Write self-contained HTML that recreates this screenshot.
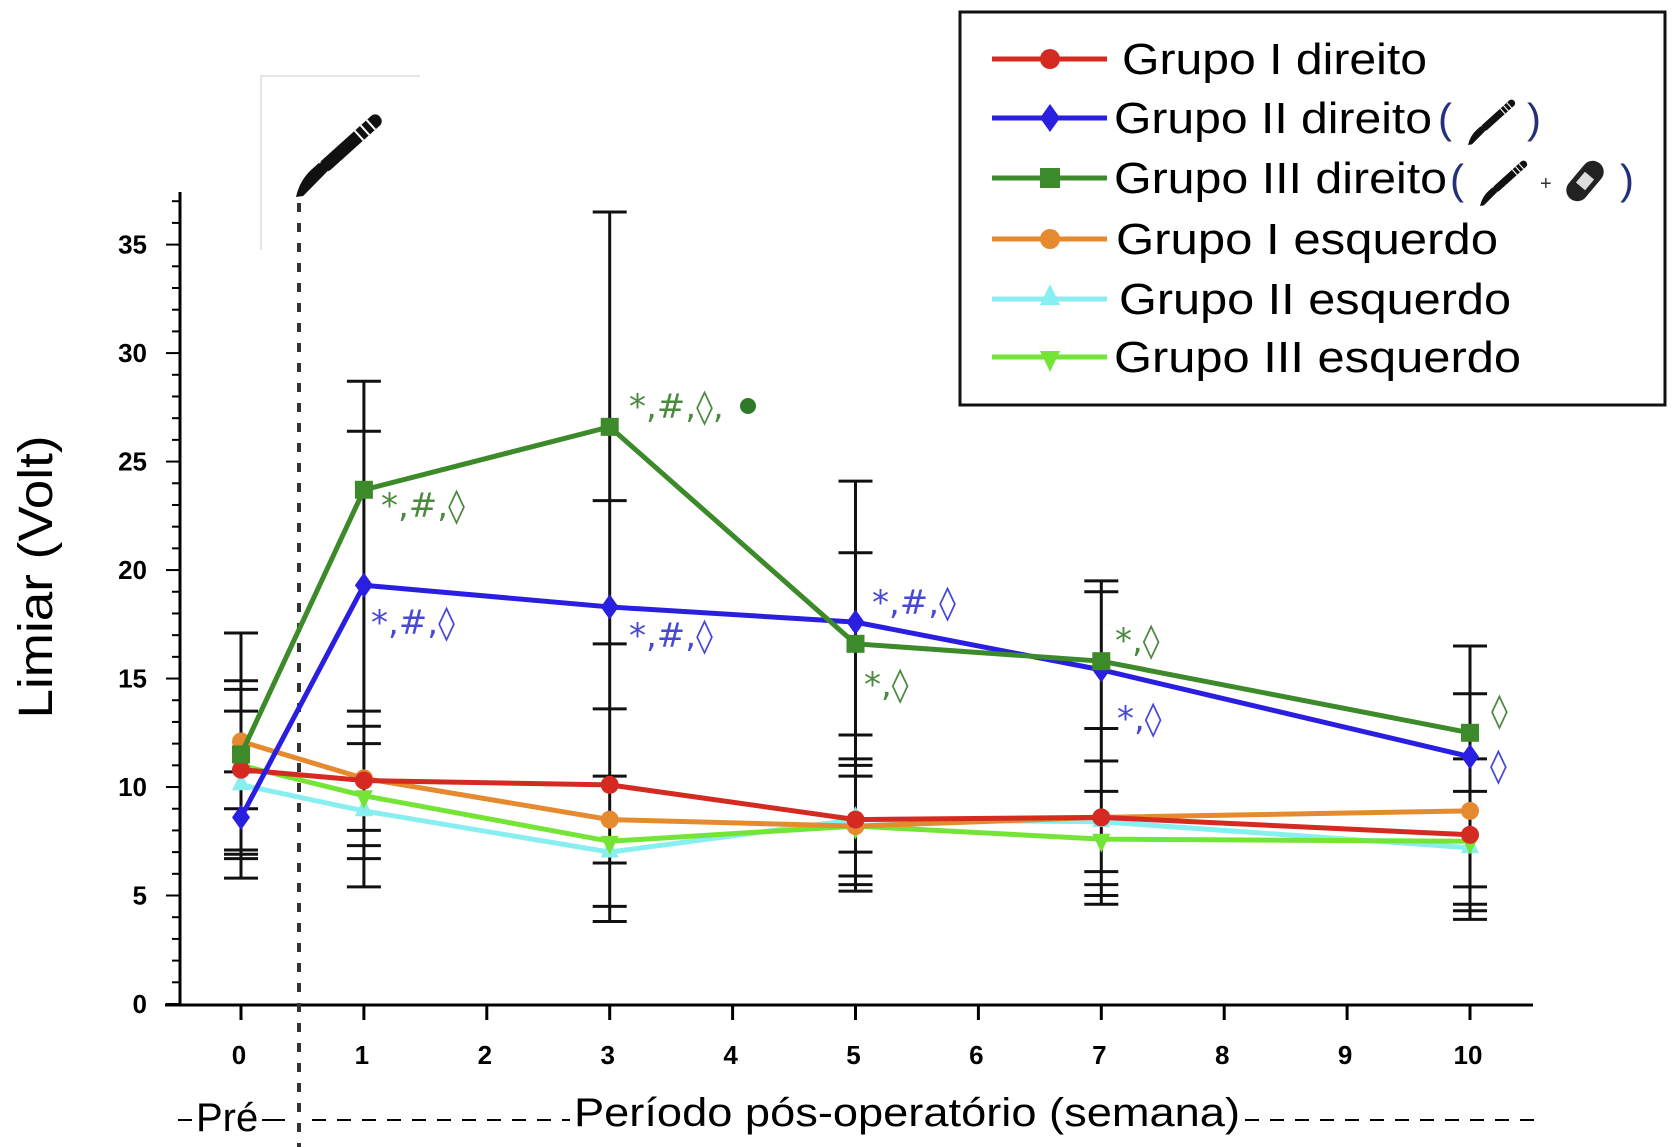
<!DOCTYPE html>
<html><head><meta charset="utf-8"><style>
html,body{margin:0;padding:0;background:#fff;}
svg{display:block;font-family:"Liberation Sans",sans-serif;}
</style></head><body>
<svg id="chart" width="1675" height="1147" viewBox="0 0 1675 1147" xmlns="http://www.w3.org/2000/svg">
<g id="axes"></g>
<g id="errs"></g>
<g id="series"></g>
<g id="notes"></g>
<g id="legend"></g>
</svg>
<script>
const weeks = [0, 1, 3, 5, 7, 10];
const xTicks = [0,1,2,3,4,5,6,7,8,9,10];
const yTicks = [0,5,10,15,20,25,30,35];
const seriesNames = ["Grupo I direito","Grupo II direito","Grupo III direito","Grupo I  esquerdo","Grupo II  esquerdo","Grupo III  esquerdo"];
const g1d = [10.8, 10.3, 10.1, 8.5, 8.6, 7.8];
const g2d = [8.6, 19.3, 18.3, 17.6, 15.4, 11.4];
const g3d = [11.5, 23.7, 26.6, 16.6, 15.8, 12.5];
const g1e = [12.1, 10.4, 8.5, 8.2, 8.6, 8.9];
const g2e = [10.1, 8.9, 7.0, 8.5, 8.4, 7.2];
const g3e = [11.0, 9.6, 7.5, 8.2, 7.6, 7.5];
const errCaps0 = [17.1,14.9,14.5,13.5,10.7,9.0,7.1,6.9,6.7,5.8];
const errCaps1 = [28.7,26.4,13.5,12.8,12.0,8.0,7.3,6.7,5.4];
const errCaps3 = [36.5,23.2,16.6,13.6,10.5,6.5,4.5,3.8];
const errCaps5 = [24.1,20.8,12.4,11.3,11.0,10.5,7.0,5.9,5.5,5.2];
const errCaps7 = [19.5,19.0,12.7,11.2,9.8,6.1,5.5,5.0,4.6];
const errCaps10 = [16.5,14.3,11.3,9.8,5.4,4.6,4.3,3.9];
const errCaps = [errCaps0, errCaps1, errCaps3, errCaps5, errCaps7, errCaps10];

const NS="http://www.w3.org/2000/svg";
const X0=241, XW=122.9, Y0=1004, YU=(1004-244.6)/35;
const xs=v=>X0+v*XW, ys=v=>Y0-v*YU;
function el(t,a,p){const e=document.createElementNS(NS,t);for(const k in a)e.setAttribute(k,a[k]);p.appendChild(e);return e;}
const axes=document.getElementById('axes');
let e=el('line',{x1:180,y1:192,x2:180,y2:1006,stroke:'#000','stroke-width':3},axes);


e=el('line',{x1:165,y1:1005,x2:1533,y2:1005,stroke:'#000','stroke-width':3},axes);


for(let v=0;v<=37;v++){const l=v%5===0?14:8;el('line',{x1:180-l,y1:ys(v),x2:180,y2:ys(v),stroke:'#000','stroke-width':2},axes);}
yTicks.forEach(v=>{const t=el('text',{x:147,y:ys(v)+9,'text-anchor':'end','font-size':26,'font-weight':'bold'},axes);t.textContent=v;

});
xTicks.forEach(v=>{el('line',{x1:xs(v),y1:1005,x2:xs(v),y2:1020,stroke:'#000','stroke-width':3},axes);
const t=el('text',{x:xs(v)-2,y:1064,'text-anchor':'middle','font-size':26,'font-weight':'bold'},axes);t.textContent=v;

});
el('line',{x1:299,y1:203,x2:299,y2:1147,stroke:'#333','stroke-width':4,'stroke-dasharray':'9,11'},axes);
el('path',{d:'M261,250 V76 H420',fill:'none',stroke:'#e6e6e6','stroke-width':2},axes);
el('line',{x1:178,y1:1120,x2:192,y2:1120,stroke:'#000','stroke-width':2},axes);
el('line',{x1:262,y1:1120,x2:285,y2:1120,stroke:'#000','stroke-width':2},axes);
el('line',{x1:312,y1:1120,x2:570,y2:1120,stroke:'#000','stroke-width':2,'stroke-dasharray':'14,11'},axes);
el('line',{x1:1245,y1:1120,x2:1535,y2:1120,stroke:'#000','stroke-width':2,'stroke-dasharray':'14,11'},axes);
let t=el('text',{x:196,y:1131,'font-size':40},axes);t.textContent='Pré';


t=el('text',{x:574,y:1126,'font-size':40,textLength:666,lengthAdjust:'spacingAndGlyphs'},axes);t.textContent='Período pós-operatório (semana)';


t=el('text',{x:0,y:0,'font-size':48,transform:'translate(52,577) rotate(-90)','text-anchor':'middle',textLength:283,lengthAdjust:'spacingAndGlyphs'},axes);t.textContent='Limiar (Volt)';


function scalpel(p,x,y,s){const g=el('g',{transform:`translate(${x},${y}) scale(${s}) rotate(-42)`},p);
el('path',{d:'M0,0 Q14,-10 30,-10 L40,-10 L40,2 L6,4 Z',fill:'#111'},g);
el('rect',{x:38,y:-10,width:78,height:13,rx:6,fill:'#111'},g);
[88,96,104].forEach(a=>el('line',{x1:a,y1:-10,x2:a,y2:3,stroke:'#fff','stroke-width':2},g));return g;}
let sc=scalpel(axes,296,197,1.0);


const errs=document.getElementById('errs');
weeks.forEach((w,i)=>{const c=errCaps[i];const mx=Math.max(...c),mn=Math.min(...c);
el('line',{x1:xs(w),y1:ys(mx),x2:xs(w),y2:ys(mn),stroke:'#111','stroke-width':3},errs);
c.forEach(v=>el('line',{x1:xs(w)-17,y1:ys(v),x2:xs(w)+17,y2:ys(v),stroke:'#111','stroke-width':3},errs));});
const colors=['#d42a22','#2a1ee0','#3d8a2a','#e58a2e','#88eef0','#74e536'];
const data=[g1d,g2d,g3d,g1e,g2e,g3e];
const shapes=['circle','diamond','square','circle','tri','tridown'];
function marker(p,sh,x,y,c,r){
 if(sh==='circle')return el('circle',{cx:x,cy:y,r:r,fill:c},p);
 if(sh==='diamond')return el('path',{d:`M${x},${y-r*1.4}L${x+r},${y}L${x},${y+r*1.4}L${x-r},${y}Z`,fill:c},p);
 if(sh==='square')return el('rect',{x:x-r,y:y-r,width:2*r,height:2*r,fill:c},p);
 if(sh==='tri')return el('path',{d:`M${x},${y-r*1.5}L${x+r},${y+r*0.6}L${x-r},${y+r*0.6}Z`,fill:c},p);
 return el('path',{d:`M${x},${y+r*1.5}L${x+r},${y-r*0.6}L${x-r},${y-r*0.6}Z`,fill:c},p);}
const ser=document.getElementById('series');
[4,5,3,0,1,2].forEach(k=>{const g=el('g',{},ser);


el('polyline',{points:weeks.map((w,i)=>xs(w)+','+ys(data[k][i])).join(' '),fill:'none',stroke:colors[k],'stroke-width':5},g);
weeks.forEach((w,i)=>{const m=marker(g,shapes[k],xs(w),ys(data[k][i]),colors[k],9);

});});
const notes=document.getElementById('notes');
const ann=[[3,1,'*,#,◊',381,517,'#4a8a3e'],[0,0,'*,#,◊,',629,418,'#4a8a3e'],[0,0,'*,#,◊',371,634,'#4848d8'],[0,0,'*,#,◊',629,647,'#4848d8'],
[0,0,'*,#,◊',872,614,'#4848d8'],[0,0,'*,◊',864,696,'#4a8a3e'],[0,0,'*,◊',1115,652,'#4a8a3e'],[0,0,'*,◊',1117,730,'#4848d8'],[0,0,'◊',1491,722,'#4a8a3e'],[0,0,'◊',1490,777,'#4848d8']];
ann.forEach(a=>{const t=el('text',{x:a[3],y:a[4],'font-size':34,fill:a[5],'font-family':'"DejaVu Sans",sans-serif'},notes);t.textContent=a[2];

});
el('circle',{cx:748,cy:406,r:8,fill:'#2d7a28'},notes);
const lg=document.getElementById('legend');
el('rect',{x:960,y:12,width:705,height:393,fill:'#fff',stroke:'#111','stroke-width':3},lg);
const ly=[59,118,178,239,299,357];
const lx=[1122,1114,1114,1116,1119,1114];
const lw=[305,318,333,382,392,407];
seriesNames.forEach((n,k)=>{const g=el('g',{},lg);


el('line',{x1:992,y1:ly[k],x2:1107,y2:ly[k],stroke:colors[k],'stroke-width':5},g);
marker(g,shapes[k],1050,ly[k],colors[k],10);
const t=el('text',{x:lx[k],y:ly[k]+15,'font-size':44,textLength:lw[k],lengthAdjust:'spacingAndGlyphs'},g);t.textContent=n;});
let p=el('text',{x:1438,y:133,'font-size':42,fill:'#24307a'},lg);p.textContent='(';
p=el('text',{x:1527,y:133,'font-size':42,fill:'#24307a'},lg);p.textContent=')';
scalpel(lg,1468,145,0.55);
p=el('text',{x:1450,y:194,'font-size':42,fill:'#24307a'},lg);p.textContent='(';
p=el('text',{x:1620,y:194,'font-size':42,fill:'#24307a'},lg);p.textContent=')';
scalpel(lg,1480,206,0.55);
p=el('text',{x:1540,y:190,'font-size':20,fill:'#333'},lg);p.textContent='+';
el('rect',{x:1562,y:170,width:46,height:22,rx:11,fill:'#222',transform:'rotate(-50 1585 181)'},lg);
el('rect',{x:1578,y:175,width:14,height:12,fill:'#ddd',transform:'rotate(-50 1585 181)'},lg);
</script>
</body></html>
